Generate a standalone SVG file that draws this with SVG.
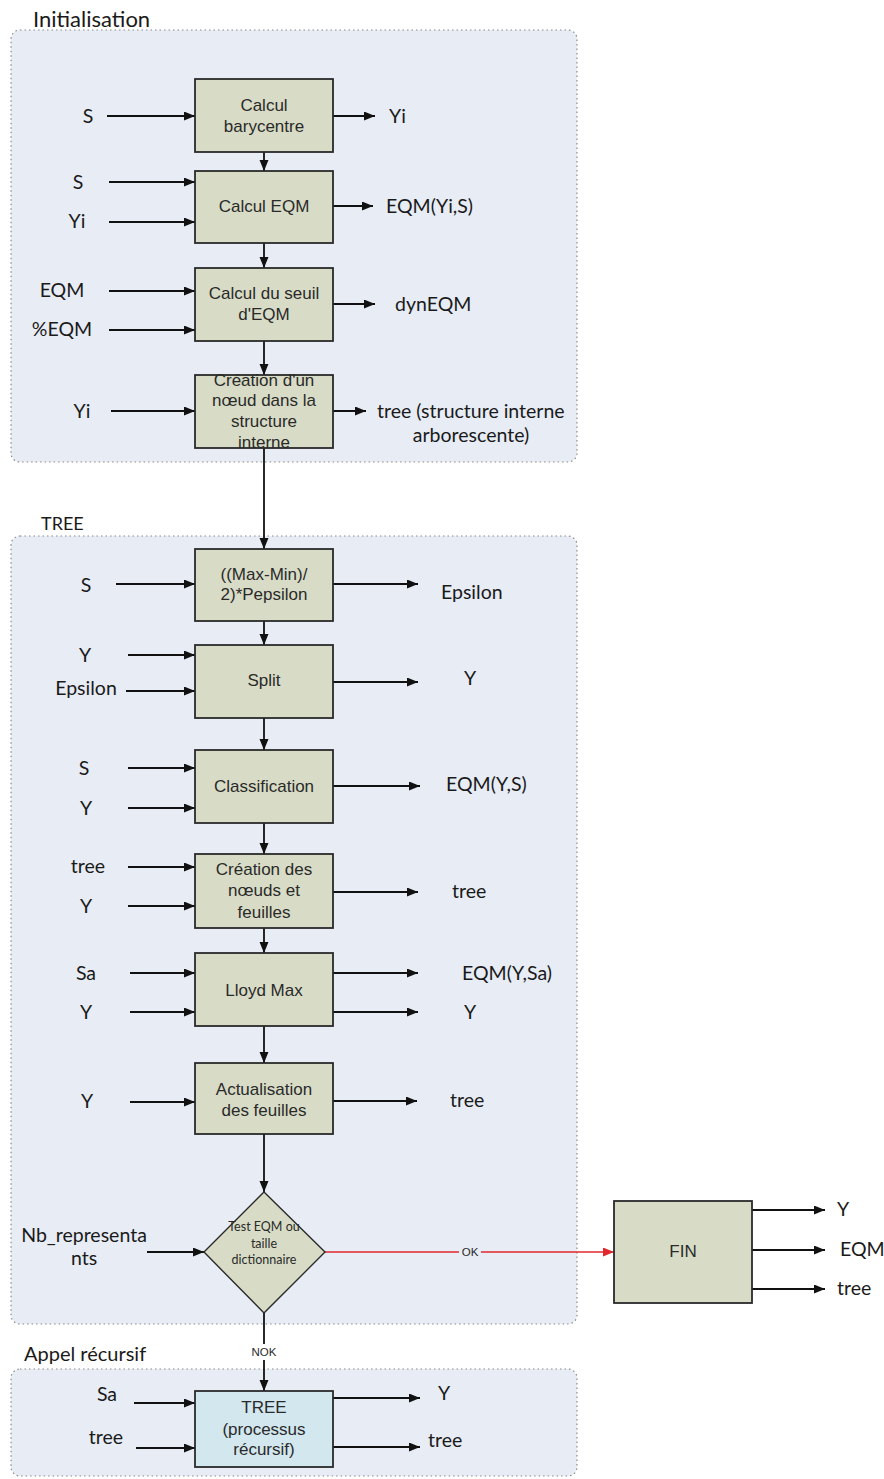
<svg xmlns="http://www.w3.org/2000/svg" width="884" height="1479" viewBox="0 0 884 1479">
<defs>
<style>
.cont{fill:#E7ECF5;stroke:#8a8a8a;stroke-width:1.2;stroke-dasharray:1.5 3}
.box{fill:#D8DCC6;stroke:#2a2a2a;stroke-width:1.8}
.rbox{fill:#D3E7EF;stroke:#2a2a2a;stroke-width:1.8}
.bt{font-family:"Liberation Sans",Arial,sans-serif;font-size:17px;fill:#2a2a2a;text-anchor:middle}
.lb{font-family:Lato,"Open Sans",sans-serif;font-size:19.5px;fill:#1a1a1a}
.ttl{font-family:Lato,"Open Sans",sans-serif;font-size:22px;fill:#1a1a1a}
.mid{text-anchor:middle}
.dt{font-family:Lato,"Open Sans",sans-serif;font-size:12.5px;fill:#2a2a2a;text-anchor:middle}
.sm{font-family:"Liberation Sans",Arial,sans-serif;font-size:11.5px;fill:#2a2a2a;text-anchor:middle}
.ln{stroke:#111;stroke-width:1.8;fill:none;marker-end:url(#ah)}
.red{stroke:#E0282E;stroke-width:1.6;fill:none;marker-end:url(#rah)}
</style>
<marker id="ah" markerUnits="userSpaceOnUse" markerWidth="12" markerHeight="10" refX="11" refY="4.5" orient="auto"><path d="M0,0 L11,4.5 L0,9 z" fill="#111"/></marker>
<marker id="rah" markerUnits="userSpaceOnUse" markerWidth="12" markerHeight="10" refX="11" refY="4.5" orient="auto"><path d="M0,0 L11,4.5 L0,9 z" fill="#E0282E"/></marker>
</defs>
<rect width="884" height="1479" fill="#ffffff"/>

<g id="containers">
<rect class="cont" x="11" y="30" width="566" height="432" rx="9"/>
<rect class="cont" x="11" y="536" width="566" height="788" rx="9"/>
<rect class="cont" x="11" y="1369" width="566" height="107" rx="9"/>
<text class="ttl" x="33" y="27">Initialisation</text>
<text class="ttl" x="41" y="530" style="font-size:18px">TREE</text>
<text class="ttl" x="24" y="1361" style="font-size:20px">Appel récursif</text>
</g>

<g id="connectors">
<line class="ln" x1="107" y1="116" x2="195" y2="116"/>
<line class="ln" x1="109" y1="182" x2="195" y2="182"/>
<line class="ln" x1="109" y1="222" x2="195" y2="222"/>
<line class="ln" x1="109" y1="291" x2="195" y2="291"/>
<line class="ln" x1="109" y1="330" x2="195" y2="330"/>
<line class="ln" x1="111" y1="411" x2="195" y2="411"/>
<line class="ln" x1="333" y1="116" x2="375" y2="116"/>
<line class="ln" x1="333" y1="206" x2="373" y2="206"/>
<line class="ln" x1="333" y1="304" x2="375" y2="304"/>
<line class="ln" x1="333" y1="411" x2="366" y2="411"/>
<line class="ln" x1="264" y1="152" x2="264" y2="171"/>
<line class="ln" x1="264" y1="243" x2="264" y2="268"/>
<line class="ln" x1="264" y1="341" x2="264" y2="375"/>
<line class="ln" x1="264" y1="448" x2="264" y2="549"/>
<line class="ln" x1="264" y1="621" x2="264" y2="645"/>
<line class="ln" x1="264" y1="718" x2="264" y2="750"/>
<line class="ln" x1="264" y1="823" x2="264" y2="854"/>
<line class="ln" x1="264" y1="928" x2="264" y2="953"/>
<line class="ln" x1="264" y1="1026" x2="264" y2="1063"/>
<line class="ln" x1="264" y1="1134" x2="264" y2="1192"/>
<line class="ln" x1="264" y1="1313" x2="264" y2="1391"/>
<line class="ln" x1="116" y1="584" x2="195" y2="584"/>
<line class="ln" x1="128" y1="655" x2="195" y2="655"/>
<line class="ln" x1="126" y1="691" x2="195" y2="691"/>
<line class="ln" x1="128" y1="768" x2="195" y2="768"/>
<line class="ln" x1="128" y1="808" x2="195" y2="808"/>
<line class="ln" x1="128" y1="867" x2="195" y2="867"/>
<line class="ln" x1="128" y1="906" x2="195" y2="906"/>
<line class="ln" x1="130" y1="973" x2="195" y2="973"/>
<line class="ln" x1="130" y1="1012" x2="195" y2="1012"/>
<line class="ln" x1="130" y1="1102" x2="195" y2="1102"/>
<line class="ln" x1="147" y1="1252" x2="204" y2="1252"/>
<line class="ln" x1="333" y1="584" x2="418" y2="584"/>
<line class="ln" x1="333" y1="682" x2="418" y2="682"/>
<line class="ln" x1="333" y1="786" x2="420" y2="786"/>
<line class="ln" x1="333" y1="892" x2="418" y2="892"/>
<line class="ln" x1="333" y1="973" x2="418" y2="973"/>
<line class="ln" x1="333" y1="1012" x2="418" y2="1012"/>
<line class="ln" x1="333" y1="1101" x2="417" y2="1101"/>
<line class="red" x1="325" y1="1252" x2="614" y2="1252"/>
<line class="ln" x1="752" y1="1210" x2="825" y2="1210"/>
<line class="ln" x1="752" y1="1250" x2="825" y2="1250"/>
<line class="ln" x1="750" y1="1289" x2="825" y2="1289"/>
<line class="ln" x1="134" y1="1403" x2="195" y2="1403"/>
<line class="ln" x1="136" y1="1448" x2="195" y2="1448"/>
<line class="ln" x1="333" y1="1398" x2="420" y2="1398"/>
<line class="ln" x1="333" y1="1447" x2="420" y2="1447"/>
<rect x="459" y="1245" width="22" height="14" fill="#E7ECF5"/>
<text class="sm" x="470" y="1256">OK</text>
<rect x="248" y="1344" width="32" height="16" fill="#ffffff"/>
<text class="sm" x="264" y="1356">NOK</text>
</g>

<g id="labels">
<text class="lb mid" x="88" y="123">S</text>
<text class="lb mid" x="78" y="189">S</text>
<text class="lb mid" x="77" y="228">Yi</text>
<text class="lb mid" x="62" y="297">EQM</text>
<text class="lb mid" x="62" y="336">%EQM</text>
<text class="lb mid" x="82" y="418">Yi</text>
<text class="lb" x="389" y="123">Yi</text>
<text class="lb" x="386" y="213">EQM(Yi,S)</text>
<text class="lb" x="395" y="311">dynEQM</text>
<text class="lb" x="377" y="418">tree (structure interne</text>
<text class="lb mid" x="471" y="442">arborescente)</text>

<text class="lb mid" x="86" y="592">S</text>
<text class="lb" x="441" y="599">Epsilon</text>
<text class="lb mid" x="85" y="662">Y</text>
<text class="lb mid" x="86" y="695">Epsilon</text>
<text class="lb mid" x="470" y="685">Y</text>
<text class="lb mid" x="84" y="775">S</text>
<text class="lb mid" x="86" y="815">Y</text>
<text class="lb" x="446" y="791">EQM(Y,S)</text>
<text class="lb mid" x="88" y="873">tree</text>
<text class="lb mid" x="86" y="913">Y</text>
<text class="lb" x="452" y="898">tree</text>
<text class="lb mid" x="86" y="980">Sa</text>
<text class="lb mid" x="86" y="1019">Y</text>
<text class="lb" x="462" y="980">EQM(Y,Sa)</text>
<text class="lb mid" x="470" y="1019">Y</text>
<text class="lb mid" x="87" y="1108">Y</text>
<text class="lb" x="450" y="1107">tree</text>
<text class="lb mid" x="84" y="1242">Nb_representa</text>
<text class="lb mid" x="84" y="1265">nts</text>

<text class="lb" x="837" y="1216">Y</text>
<text class="lb" x="840" y="1256">EQM</text>
<text class="lb" x="837" y="1295">tree</text>

<text class="lb mid" x="107" y="1401">Sa</text>
<text class="lb mid" x="106" y="1444">tree</text>
<text class="lb mid" x="444" y="1400">Y</text>
<text class="lb" x="428" y="1447">tree</text>
</g>

<g id="n1"><rect class="box" x="195" y="79" width="138" height="73"/><text class="bt" x="264" y="111">Calcul</text><text class="bt" x="264" y="132">barycentre</text></g>
<g id="n2"><rect class="box" x="195" y="171" width="138" height="72"/><text class="bt" x="264" y="212">Calcul EQM</text></g>
<g id="n3"><rect class="box" x="195" y="268" width="138" height="73"/><text class="bt" x="264" y="299">Calcul du seuil</text><text class="bt" x="264" y="320">d'EQM</text></g>
<g id="n4"><rect class="box" x="195" y="375" width="138" height="73"/><text class="bt" x="264" y="386">Création d'un</text><text class="bt" x="264" y="406">nœud dans la</text><text class="bt" x="264" y="427">structure</text><text class="bt" x="264" y="448">interne</text></g>

<g id="n5"><rect class="box" x="195" y="549" width="138" height="72"/><text class="bt" x="264" y="580">((Max-Min)/</text><text class="bt" x="264" y="600">2)*Pepsilon</text></g>
<g id="n6"><rect class="box" x="195" y="645" width="138" height="73"/><text class="bt" x="264" y="686">Split</text></g>
<g id="n7"><rect class="box" x="195" y="750" width="138" height="73"/><text class="bt" x="264" y="792">Classification</text></g>
<g id="n8"><rect class="box" x="195" y="854" width="138" height="74"/><text class="bt" x="264" y="875">Création des</text><text class="bt" x="264" y="896">nœuds et</text><text class="bt" x="264" y="918">feuilles</text></g>
<g id="n9"><rect class="box" x="195" y="953" width="138" height="73"/><text class="bt" x="264" y="996">Lloyd Max</text></g>
<g id="n10"><rect class="box" x="195" y="1063" width="138" height="71"/><text class="bt" x="264" y="1095">Actualisation</text><text class="bt" x="264" y="1116">des feuilles</text></g>
<g id="n11"><polygon class="box" style="stroke-width:1.4" points="264,1192 325,1252 264,1313 204,1252"/><text class="dt" x="264" y="1231">Test EQM ou</text><text class="dt" x="264" y="1248">taille</text><text class="dt" x="264" y="1264">dictionnaire</text></g>
<g id="n12"><rect class="box" x="614" y="1201" width="138" height="102"/><text class="bt" x="683" y="1257">FIN</text></g>
<g id="n13"><rect class="rbox" x="195" y="1391" width="138" height="76"/><text class="bt" x="264" y="1413">TREE</text><text class="bt" x="264" y="1435">(processus</text><text class="bt" x="264" y="1455">récursif)</text></g>
</svg>
